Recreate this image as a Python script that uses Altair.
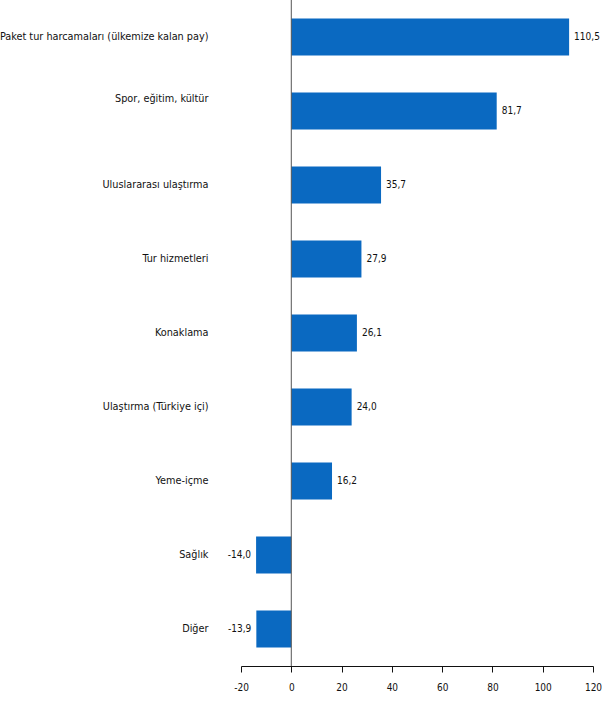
import altair as alt
import pandas as pd

categories = [
    "Paket tur harcamaları (ülkemize kalan pay)",
    "Spor, eğitim, kültür",
    "Uluslararası ulaştırma",
    "Tur hizmetleri",
    "Konaklama",
    "Ulaştırma (Türkiye içi)",
    "Yeme-içme",
    "Sağlık",
    "Diğer",
]
values = [110.5, 81.7, 35.7, 27.9, 26.1, 24.0, 16.2, -14.0, -13.9]
tick_values = [-20, 0, 20, 40, 60, 80, 100, 120]

df = pd.DataFrame({"cat": categories, "v": values})

FONT = "DejaVu Sans Condensed, Liberation Sans, sans-serif"
BLUE = "#0A69C1"

base = alt.Chart(df).transform_calculate(
    lbl="(datum.v < 0 ? '-' : '') + replace(format(abs(datum.v), '.1f'), '.', ',')"
)

y = alt.Y(
    "cat:N",
    sort=categories,
    title=None,
    scale=alt.Scale(paddingInner=0.5, paddingOuter=0.25),
    axis=alt.Axis(
        domain=False,
        ticks=False,
        labelFont=FONT,
        labelFontSize=10.8,
        labelColor="#111111",
        labelPadding=33,
        labelLimit=400,
        labelOffset=alt.ExprRef("datum.value === 'Spor, eğitim, kültür' ? -12 : 0"),
    ),
)

x = alt.X(
    "v:Q",
    title=None,
    scale=alt.Scale(domain=[-20, 120], nice=False, zero=False),
    axis=alt.Axis(
        values=tick_values,
        grid=False,
        domainColor="#111111",
        domainWidth=1.2,
        tickColor="#111111",
        tickSize=6,
        labelFlush=False,
        labelFont=FONT,
        labelFontSize=10,
        labelColor="#111111",
        labelPadding=10,
        labelExpr="'' + datum.value",
    ),
)

bars = base.mark_bar(color=BLUE).encode(x=x, y=y)

pos_text = base.transform_filter("datum.v >= 0").mark_text(
    align="left", baseline="middle", dx=5, font=FONT, fontSize=10, color="#111111"
).encode(x="v:Q", y=alt.Y("cat:N", sort=categories), text="lbl:N")

neg_text = base.transform_filter("datum.v < 0").mark_text(
    align="right", baseline="middle", dx=-5, font=FONT, fontSize=10, color="#111111"
).encode(x="v:Q", y=alt.Y("cat:N", sort=categories), text="lbl:N")

zero = alt.Chart(pd.DataFrame({"z": [0]})).mark_rule(color="#555555", strokeWidth=1).encode(
    x="z:Q"
)

chart = (
    alt.layer(bars, zero, pos_text, neg_text)
    .properties(
        width=352,
        height=666,
        autosize=alt.AutoSizeParams(type="none"),
        padding={"left": 241, "top": 0, "right": 9, "bottom": 42},
        background="white",
    )
    .configure_view(stroke=None)
)

chart.save("out.html", embed_options={"renderer": "svg", "actions": False})
